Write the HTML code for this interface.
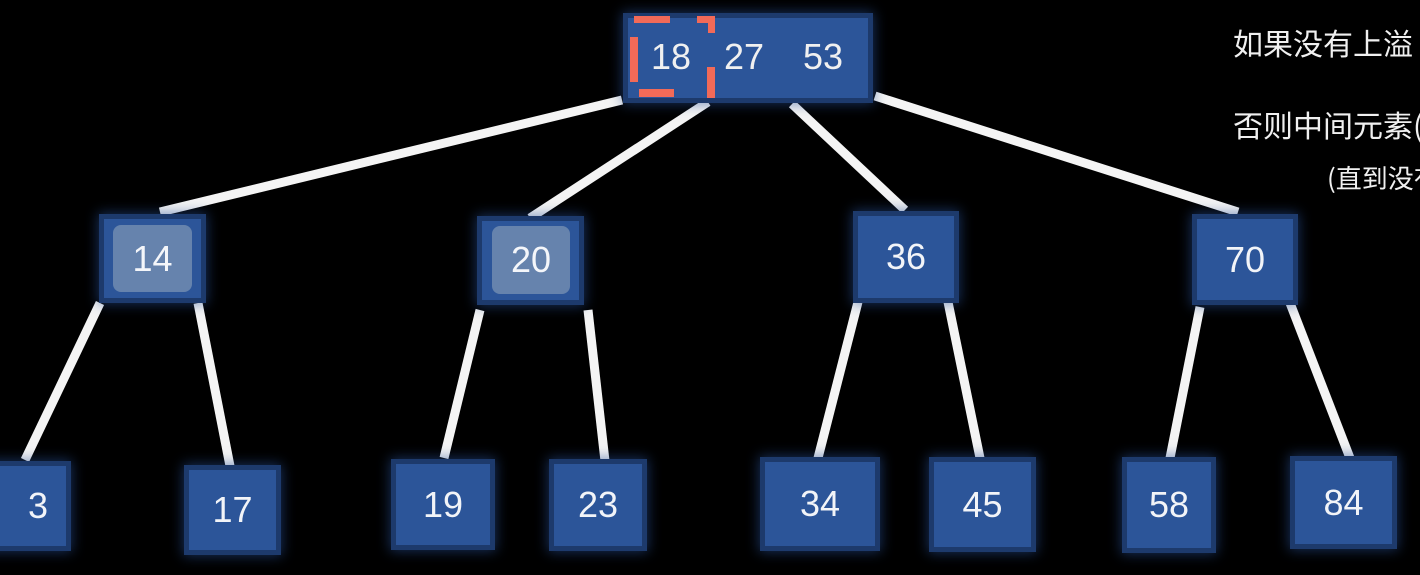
<!DOCTYPE html>
<html><head><meta charset="utf-8"><style>
html,body{margin:0;padding:0;background:#000;width:1420px;height:575px;overflow:hidden;position:relative;font-family:"Liberation Sans","DejaVu Sans","Noto Sans CJK SC",sans-serif}
.b{position:absolute;background:#2c5599;box-shadow:0 0 0 5px #1d3a6c,0 0 12px 6px rgba(40,80,150,.6);color:#f2f4f8;font-size:36px;display:flex;align-items:center;justify-content:center}
.in{position:absolute;background:#6683ad;border-radius:8px;display:flex;align-items:center;justify-content:center;color:#f4f6fa;font-size:36px}
.t{position:absolute;color:#f0f0f0;font-family:"Noto Sans CJK SC",sans-serif;white-space:nowrap}
.r{position:absolute;background:#f26a58}
</style></head><body>
<svg width="1420" height="575" style="position:absolute;left:0;top:0">
<g stroke="#f4f4f4" stroke-width="9" stroke-linecap="butt">
<line x1="622" y1="100" x2="160" y2="212"/>
<line x1="708" y1="102" x2="530" y2="218"/>
<line x1="792" y1="104" x2="905" y2="210"/>
<line x1="875" y1="96" x2="1238" y2="212"/>
<line x1="100" y1="303" x2="25" y2="460"/>
<line x1="198" y1="303" x2="230" y2="466"/>
<line x1="480" y1="310" x2="444" y2="458"/>
<line x1="588" y1="310" x2="605" y2="461"/>
<line x1="858" y1="302" x2="818" y2="458"/>
<line x1="948" y1="302" x2="980" y2="458"/>
<line x1="1200" y1="307" x2="1170" y2="458"/>
<line x1="1290" y1="303" x2="1350" y2="458"/>
</g></svg>
<div class="b" style="left:628px;top:18px;width:240px;height:80px"></div>
<div class="t" style="left:651px;top:36px;font-family:'Liberation Sans',sans-serif;font-size:36px">18</div>
<div class="t" style="left:724px;top:36px;font-family:'Liberation Sans',sans-serif;font-size:36px">27</div>
<div class="t" style="left:803px;top:36px;font-family:'Liberation Sans',sans-serif;font-size:36px">53</div>
<div class="r" style="left:634px;top:16px;width:36px;height:7px"></div>
<div class="r" style="left:697px;top:16px;width:18px;height:7px"></div>
<div class="r" style="left:708px;top:16px;width:7px;height:17px"></div>
<div class="r" style="left:630px;top:37px;width:8px;height:45px"></div>
<div class="r" style="left:707px;top:67px;width:8px;height:31px"></div>
<div class="r" style="left:639px;top:89px;width:35px;height:8px"></div>
<div class="b" style="left:104px;top:219px;width:97px;height:79px"><div class="in" style="left:9px;top:6px;width:79px;height:67px">14</div></div>
<div class="b" style="left:482px;top:221px;width:97px;height:79px"><div class="in" style="left:10px;top:5px;width:78px;height:68px">20</div></div>
<div class="b" style="left:858px;top:216px;width:96px;height:82px">36</div>
<div class="b" style="left:1197px;top:219px;width:96px;height:81px">70</div>
<div class="b" style="left:-10px;top:466px;width:76px;height:80px;padding-left:20px;box-sizing:border-box">3</div>
<div class="b" style="left:189px;top:470px;width:87px;height:80px">17</div>
<div class="b" style="left:396px;top:464px;width:94px;height:81px">19</div>
<div class="b" style="left:554px;top:464px;width:88px;height:82px">23</div>
<div class="b" style="left:765px;top:462px;width:110px;height:84px">34</div>
<div class="b" style="left:934px;top:462px;width:97px;height:85px">45</div>
<div class="b" style="left:1127px;top:462px;width:84px;height:86px">58</div>
<div class="b" style="left:1295px;top:461px;width:97px;height:83px">84</div>
<div class="t" style="left:1233px;top:22px;font-size:30px;line-height:40px">如果没有上溢</div>
<div class="t" style="left:1233px;top:104px;font-size:30px;line-height:40px">否则中间元素(</div>
<div class="t" style="left:1327px;top:161px;font-size:26px;line-height:34px">(直到没有</div>
</body></html>
